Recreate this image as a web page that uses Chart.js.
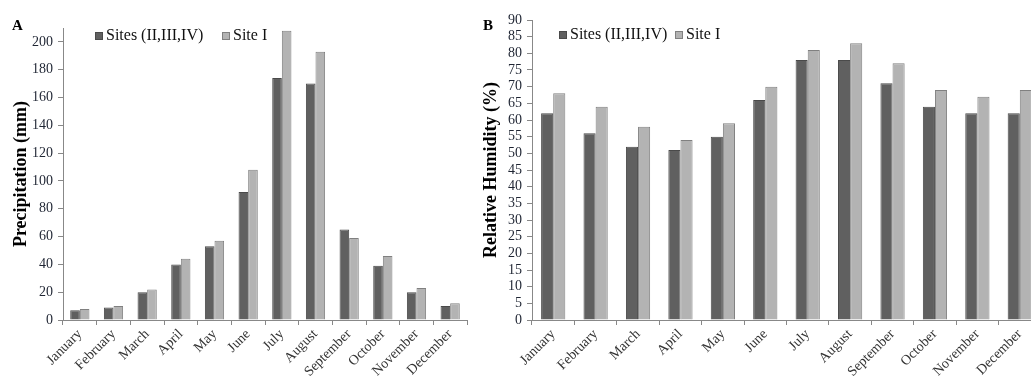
<!DOCTYPE html>
<html lang="en">
<head>
<meta charset="UTF-8">
<title>Precipitation and Relative Humidity</title>
<script src="https://cdn.jsdelivr.net/npm/chart.js"></script>
<style>
  html, body { margin: 0; padding: 0; background: #fff; overflow: hidden; width: 1031px; height: 378px; }
  canvas { position: absolute; top: 0; }
  #chartA { left: 0; }
  #chartB { left: 470px; }
</style>
</head>
<body>
<canvas id="chartA" width="480" height="378"></canvas>
<canvas id="chartB" width="580" height="378"></canvas>

<script>
// data
const months = ["January", "February", "March", "April", "May", "June",
                "July", "August", "September", "October", "November", "December"];
const seriesNames = ["Sites (II,III,IV)", "Site I"];

const precipSites = [7, 9, 20, 40, 53, 92, 174, 170, 65, 39, 20, 10];
const precipSiteI = [8, 10, 22, 44, 57, 108, 208, 193, 59, 46, 23, 12];
const precipTicks = [0, 20, 40, 60, 80, 100, 120, 140, 160, 180, 200];

const humidSites = [62, 56, 52, 51, 55, 66, 78, 78, 71, 64, 62, 62];
const humidSiteI = [68, 64, 58, 54, 59, 70, 81, 83, 77, 69, 67, 69];
const humidTicks = [0, 5, 10, 15, 20, 25, 30, 35, 40, 45, 50, 55, 60, 65, 70, 75, 80, 85, 90];

Chart.defaults.font.family = "'Liberation Serif', 'Times New Roman', serif";
Chart.defaults.color = '#1f2533';

// panel letter + legend drawn inside the plot like the original
const panelPlugin = {
    id: 'panel',
    afterDraw(chart, args, opts) {
        const ctx = chart.ctx;
        ctx.save();
        ctx.fillStyle = '#000';
        ctx.font = "bold 15px 'Liberation Serif'";
        ctx.textBaseline = 'alphabetic';
        ctx.fillText(opts.letter, opts.letterX, opts.letterY);

        ctx.font = "16px 'Liberation Serif'";
        ctx.textBaseline = 'middle';
        chart.data.datasets.forEach((ds, i) => {
            const x = opts.legendX[i];
            ctx.fillStyle = ds.backgroundColor;
            ctx.fillRect(x, opts.legendY - 4, 8, 8);
            ctx.strokeStyle = ds.borderColor;
            ctx.lineWidth = 1;
            ctx.strokeRect(x + 0.5, opts.legendY - 3.5, 7, 7);
            ctx.fillStyle = '#111';
            ctx.fillText(ds.label, x + 11, opts.legendY);
        });
        ctx.restore();
    }
};

function makeChart(id, yTitle, sites, siteI, yMax, yTicks, yWidth, pad, panel) {
    const barOpts = { borderWidth: 1, categoryPercentage: 0.571, barPercentage: 1 };
    return new Chart(document.getElementById(id), {
        type: 'bar',
        data: {
            labels: months,
            datasets: [
                Object.assign({ label: seriesNames[0], data: sites, backgroundColor: '#606060', borderColor: '#4a4a4a' }, barOpts),
                Object.assign({ label: seriesNames[1], data: siteI, backgroundColor: '#b3b3b3', borderColor: '#808080' }, barOpts)
            ]
        },
        options: {
            responsive: false,
            animation: false,
            layout: { padding: pad },
            plugins: {
                legend: { display: false },
                tooltip: { enabled: false },
                panel: panel
            },
            scales: {
                x: {
                    grid: { drawOnChartArea: false, color: '#888', tickLength: 5, offset: true },
                    border: { color: '#888' },
                    ticks: { minRotation: 45, maxRotation: 45, autoSkip: false, padding: 1, color: '#333', font: { size: 14 } },
                    afterFit: s => { s.height = 58; }
                },
                y: {
                    min: 0,
                    max: yMax,
                    grid: { drawOnChartArea: false, color: '#888', tickLength: 5 },
                    border: { color: '#888' },
                    ticks: { padding: 5, autoSkip: false, font: { size: 14 } },
                    afterBuildTicks: s => { s.ticks = yTicks.map(v => ({ value: v })); },
                    afterFit: s => { s.width = yWidth; },
                    title: {
                        display: true, text: yTitle, color: '#000',
                        font: { size: 18, weight: 'bold' },
                        padding: { top: 11, bottom: 0 }
                    }
                }
            }
        },
        plugins: [panelPlugin]
    });
}

makeChart('chartA', 'Precipitation (mm)', precipSites, precipSiteI, 210, precipTicks, 63,
    { left: 0, top: 28, right: 13, bottom: 0 },
    { letter: 'A', letterX: 12, letterY: 30, legendX: [95, 222], legendY: 36 });

makeChart('chartB', 'Relative Humidity (%)', humidSites, humidSiteI, 90, humidTicks, 62,
    { left: 0, top: 20, right: 9, bottom: 0 },
    { letter: 'B', letterX: 13, letterY: 30, legendX: [89, 205], legendY: 35 });
</script>
</body>
</html>
